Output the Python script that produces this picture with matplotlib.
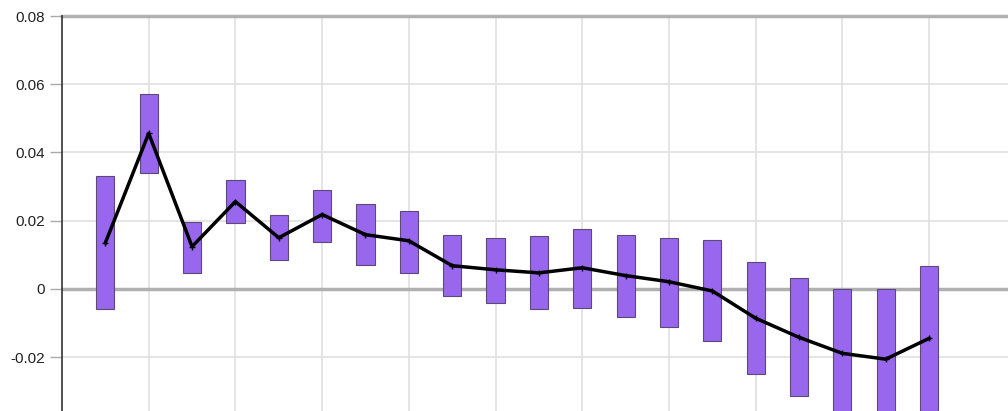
import matplotlib
matplotlib.use("Agg")
import matplotlib.pyplot as plt

plt.rcParams['font.family'] = ['Liberation Sans', 'DejaVu Sans']

# Interval per position: upper bound, lower bound, and estimate
positions = list(range(1, 21))
upper = [0.0332, 0.0571, 0.0197, 0.0320, 0.0218, 0.0291, 0.0250, 0.0229, 0.0159, 0.0150,
         0.0156, 0.0177, 0.0158, 0.0150, 0.0144, 0.0079, 0.0032, 0.0000, 0.0000, 0.0068]
lower = [-0.0059, 0.0341, 0.0047, 0.0194, 0.0085, 0.0138, 0.0071, 0.0047, -0.0021, -0.0041,
         -0.0059, -0.0055, -0.0083, -0.0112, -0.0153, -0.0250, -0.0315, -0.0378, -0.0412, -0.0358]
estimate = [0.0135, 0.0456, 0.0124, 0.0256, 0.0150, 0.0218, 0.0159, 0.0141, 0.0068, 0.0056,
            0.0047, 0.0062, 0.0039, 0.0021, -0.0006, -0.0086, -0.0142, -0.0189, -0.0206, -0.0145]
yticks = [-0.02, 0, 0.02, 0.04, 0.06, 0.08]
ytick_labels = ["-0.02", "0", "0.02", "0.04", "0.06", "0.08"]

fig = plt.figure(figsize=(10.08, 4.11), dpi=100)
ax = fig.add_axes([0.0615, 0.0, 0.9385, 0.961])

heights = [u - l for u, l in zip(upper, lower)]
ax.bar(positions, heights, bottom=lower, width=0.42, color='#9966ee',
       edgecolor='#5a4a7a', linewidth=0.8, zorder=3)
ax.plot(positions, estimate, color='black', linewidth=2.5, marker='+',
        markersize=5, markeredgewidth=1.0, zorder=4)

ax.set_xlim(0, 21.82)
ax.set_ylim(-0.0358, 0.08)

# Vertical grid every second position, horizontal grid at each tick
ax.set_xticks(range(2, 21, 2))
ax.set_xticklabels([])
ax.tick_params(axis='x', length=0)
ax.set_yticks(yticks)
ax.set_yticklabels(ytick_labels, fontsize=11, color='#222222')
ax.tick_params(axis='y', length=9, width=1, color='#aaaaaa', pad=3)
ax.grid(True, color='#e0e0e0', linewidth=1.2, zorder=0)
ax.axhline(0, color='#b0b0b0', linewidth=2.5, zorder=2)
ax.axhline(0.08, color='#b0b0b0', linewidth=2.5, zorder=2, clip_on=False)

for side in ('top', 'right', 'bottom'):
    ax.spines[side].set_visible(False)
ax.spines['left'].set_color('#333333')
ax.spines['left'].set_linewidth(1.2)

fig.savefig('out.png', dpi=100)
